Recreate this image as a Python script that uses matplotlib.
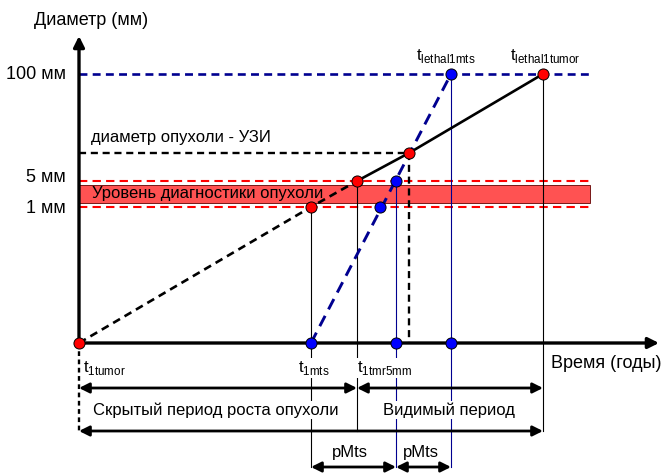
import matplotlib
matplotlib.use("Agg")
import matplotlib.pyplot as plt
from matplotlib.patches import FancyArrowPatch, Rectangle

plt.rcParams['font.family'] = ['Liberation Sans', 'DejaVu Sans']

# schematic coordinates: x = time, y = diameter level (origin at axis corner)
level_names = ["1 мм", "5 мм", "100 мм"]
level_values = [136, 162, 269]
lvl_uzi = 190
band = (140, 158)
guide_end = 511

# tumour growth curve (red points)
tumor_t = [0, 232, 278, 330, 464]
tumor_d = [0, 136, 162, 190, 269]
# metastasis growth curve (blue points)
mts_t = [232, 301, 317, 372]
mts_d = [0, 136, 162, 269]
mts_axis_t = [317, 372]

t_labels = [("t", "1tumor", 4), ("t", "1mts", 219), ("t", "1tmr5mm", 278)]
top_labels = [("t", "lethal1mts", 337), ("t", "lethal1tumor", 431)]

fig = plt.figure(figsize=(6.61, 4.74), dpi=100)
ax = fig.add_axes([0, 0, 1, 1])
ax.set_xlim(-79, 582)
ax.set_ylim(-131, 343)
ax.axis("off")

fs = 12

# diagnostic band
ax.add_patch(Rectangle((0, band[0]), guide_end, band[1] - band[0],
                       facecolor="#ff5252", edgecolor="#600000", lw=0.6, zorder=1))
for v in level_values[:2]:
    ax.plot([0, guide_end], [v, v], color="red", ls=(0, (4, 2.5)), lw=1.5, zorder=2)
ax.plot([0, guide_end], [level_values[2]] * 2, color="#000090", ls=(0, (3, 2)), lw=1.9, zorder=2)
ax.plot([0, tumor_t[3]], [lvl_uzi, lvl_uzi], color="black", ls=(0, (3, 2)), lw=1.7, zorder=2)
ax.plot([tumor_t[3], tumor_t[3]], [lvl_uzi, 0], color="black", ls=(0, (3, 2)), lw=1.7, zorder=2)

# vertical guides
ax.plot([tumor_t[1]] * 2, [tumor_d[1], -124], color="black", lw=0.8, zorder=2)
ax.plot([tumor_t[2]] * 2, [tumor_d[2], -88], color="black", lw=0.8, zorder=2)
ax.plot([tumor_t[4]] * 2, [tumor_d[4], -88], color="black", lw=0.8, zorder=2)
ax.plot([mts_t[2]] * 2, [mts_d[2], -124], color="#000090", lw=0.8, zorder=2)
ax.plot([mts_t[3]] * 2, [mts_d[3], -124], color="#000090", lw=0.8, zorder=2)
ax.plot([0, 0], [0, -88], color="black", ls=(0, (2, 1.5)), lw=1.7, zorder=2)

# growth lines
ax.plot(tumor_t[:3], tumor_d[:3], color="black", ls=(0, (3, 2)), lw=1.9, zorder=3)
ax.plot(tumor_t[2:], tumor_d[2:], color="black", lw=1.9, zorder=3)
ax.plot([mts_t[0], mts_t[3]], [mts_d[0], mts_d[3]], color="#000090", ls=(0, (4, 2.5)), lw=2.1, zorder=3)

# axes arrows
def arrow(x0, y0, x1, y1, style="-|>", lw=2.4, ms=16, z=4):
    ax.add_patch(FancyArrowPatch((x0, y0), (x1, y1), arrowstyle=style, mutation_scale=ms,
                                 color="black", lw=lw, shrinkA=0, shrinkB=0, zorder=z))

arrow(0, 0, 0, 307)
arrow(0, 0, 580, 0)

# period arrows
arrow(0, -45, tumor_t[2], -45, style="<|-|>", lw=2.0, ms=15)
arrow(tumor_t[2], -45, tumor_t[4], -45, style="<|-|>", lw=2.0, ms=15)
arrow(0, -88, tumor_t[4], -88, style="<|-|>", lw=2.0, ms=15)
arrow(mts_t[0], -124, mts_axis_t[0], -124, style="<|-|>", lw=2.0, ms=15)
arrow(mts_axis_t[0], -124, mts_axis_t[1], -124, style="<|-|>", lw=2.0, ms=15)

# points
ax.plot(tumor_t, tumor_d, "o", color="red", mec="black", mew=0.7, ms=8, zorder=6)
ax.plot(mts_t + mts_axis_t, mts_d + [0, 0], "o", color="blue", mec="black", mew=0.7, ms=8, zorder=6)

# texts
white = dict(facecolor="white", edgecolor="none", pad=1)
ax.text(12, 323, "Диаметр (мм)", fontsize=13, ha="center", va="center")
for name, v, dy in zip(level_names, level_values, [-1, 4, 0]):
    ax.text(-13, v + dy, name, fontsize=13, ha="right", va="center")
ax.text(12, 206, "диаметр опухоли - УЗИ", fontsize=fs, ha="left", va="center")
ax.text(13, 150, "Уровень диагностики опухоли", fontsize=fs, ha="left", va="center", zorder=5)
ax.text(472, -20, "Время (годы)", fontsize=13, ha="left", va="center")
for t, sub, x in t_labels:
    ax.text(x, -25, "%s$_{\\mathregular{%s}}$" % (t, sub), fontsize=12, ha="left",
            va="center", bbox=white, zorder=5)
for t, sub, x in top_labels:
    ax.text(x, 287, "%s$_{\\mathregular{%s}}$" % (t, sub), fontsize=12, ha="left",
            va="center", zorder=5)
ax.text(137, -67, "Скрытый период роста опухоли", fontsize=fs, ha="center", va="center",
        bbox=white, zorder=5)
ax.text(370, -67, "Видимый период", fontsize=fs, ha="center", va="center",
        bbox=white, zorder=5)
ax.text(271, -110, "pMts", fontsize=fs, ha="center", va="center")
ax.text(342, -110, "pMts", fontsize=fs, ha="center", va="center")

fig.savefig("out.png", dpi=100)
